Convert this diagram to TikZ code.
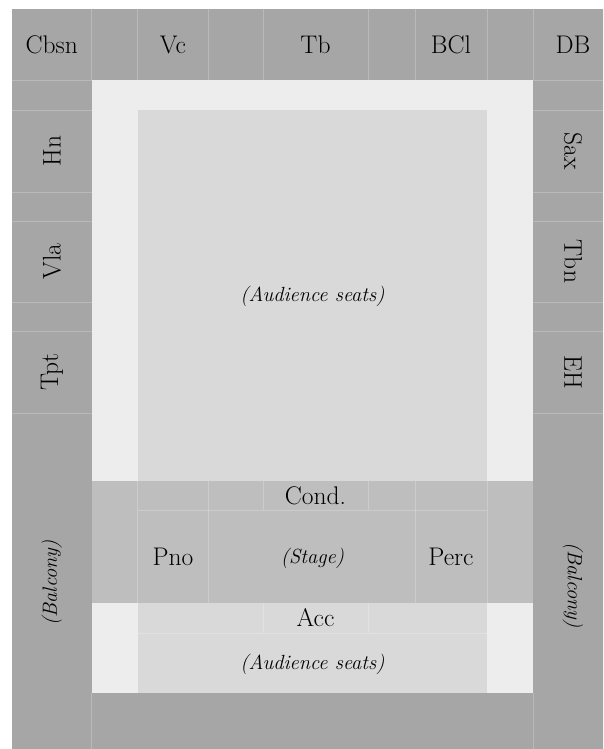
\documentclass[tikz,border=0pt]{standalone}
\usepackage{fontspec}
\definecolor{dk}{HTML}{A6A6A6}
\definecolor{lt}{HTML}{EDEDED}
\definecolor{md}{HTML}{D9D9D9}
\definecolor{st}{HTML}{BEBEBE}
\begin{document}
\begin{tikzpicture}[x=1pt,y=-1pt,
  lbl/.style={font=\fontsize{25.5}{30}\selectfont, inner sep=0pt, text=black},
  ital/.style={font=\fontsize{20.5}{24}\selectfont\itshape, inner sep=0pt, text=black},
  gl/.style={draw=white, draw opacity=0.22, line width=0.6pt}]
\useasboundingbox (0,0) rectangle (603,749);
\begin{scope}
\clip (0,0) rectangle (603,749);
% areas
\fill[dk] (11.7,9) rectangle (613,760);
\fill[lt] (91.7,80) rectangle (533,693);
\fill[md] (137.7,110) rectangle (487,693);
\fill[st] (91.7,481) rectangle (533,603);
% grid lines, top row
\foreach \x in {91.7,137.7,208.5,263,368,415,487,533}
  \draw[gl] (\x,9) -- (\x,80);
% grid lines, side columns
\foreach \y in {80,110,192,221,302,331,413}{
  \draw[gl] (11.7,\y) -- (91.7,\y);
  \draw[gl] (533,\y) -- (613,\y);}
% bottom row
\draw[gl] (91.7,693) -- (91.7,749);
\draw[gl] (533,693) -- (533,749);
% stage
\draw[gl] (137.7,510) -- (487,510);
\foreach \x in {137.7,208.5,415,487}
  \draw[gl] (\x,481) -- (\x,603);
\foreach \x in {263,368}{
  \draw[gl] (\x,481) -- (\x,510);
  \draw[gl] (\x,603) -- (\x,633);}
\draw[gl] (137.7,633) -- (487,633);
\end{scope}
% labels, top row
\node[lbl] (cbsn) at (51.7,44.5) {Cbsn};
\node[lbl] (vc) at (173,44.5) {Vc};
\node[lbl] (tb) at (315.5,44.5) {Tb};
\node[lbl] (bcl) at (451,44.5) {BCl};
\node[lbl] (db) at (573,44.5) {DB};
% left side
\node[lbl, rotate=90] (hn) at (52,151) {Hn};
\node[lbl, rotate=90] (vla) at (52,261.5) {Vla};
\node[lbl, rotate=90] (tpt) at (52,372) {Tpt};
\node[ital, rotate=90] (balcl) at (51.7,583) {(Balcony)};
% right side
\node[lbl, rotate=-90] (sax) at (573,151) {Sax};
\node[lbl, rotate=-90] (tbn) at (573,261.5) {Tbn};
\node[lbl, rotate=-90] (eh) at (573,372) {EH};
\node[ital, rotate=-90] (balcr) at (573,585) {(Balcony)};
% middle
\node[ital] (aud1) at (312.5,296) {(Audience seats)};
\node[lbl] (cond) at (315.5,495.5) {Cond.};
\node[lbl] (pno) at (173,557) {Pno};
\node[ital] (stage) at (312.5,558) {(Stage)};
\node[lbl] (perc) at (451,557) {Perc};
\node[lbl] (acc) at (315.5,618) {Acc};
\node[ital] (aud2) at (312.5,664) {(Audience seats)};
\end{tikzpicture}
\end{document}
